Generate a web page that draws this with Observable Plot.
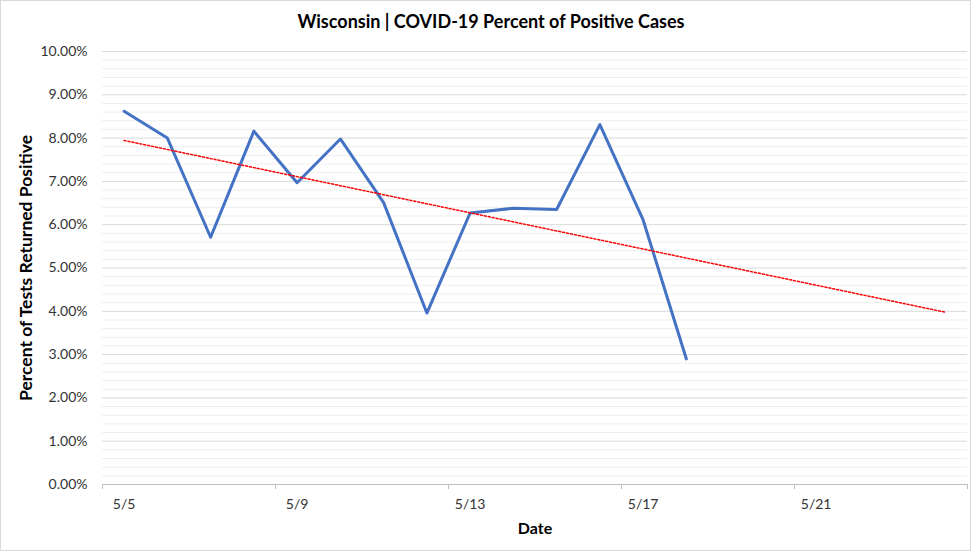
<!DOCTYPE html>
<html><head><meta charset="utf-8">
<script src="https://cdn.jsdelivr.net/npm/d3@7"></script>
<script src="https://cdn.jsdelivr.net/npm/@observablehq/plot@0.6"></script>
<style>
html,body{margin:0;padding:0;background:#fff;}
#chart{position:absolute;left:0;top:0;width:980px;height:552px;}
#border{position:absolute;left:0;top:0;width:969px;height:549px;border:1px solid #d9d9d9;pointer-events:none;}
</style></head><body>
<div id="chart"></div><div id="border"></div>
<script>
// ---- data ----
const dates = ["2020-05-05","2020-05-06","2020-05-07","2020-05-08","2020-05-09","2020-05-10","2020-05-11",
               "2020-05-12","2020-05-13","2020-05-14","2020-05-15","2020-05-16","2020-05-17","2020-05-18"];
const positivePct = [8.62, 8.00, 5.71, 8.16, 6.97, 7.98, 6.51, 3.96, 6.27, 6.38, 6.35, 8.31, 6.11, 2.90];
const xTickLabels = ["5/5","5/9","5/13","5/17","5/21"];
const xTickMarks = ["2020-05-05","2020-05-09","2020-05-13","2020-05-17","2020-05-21","2020-05-25"];
const yTicks = [0,1,2,3,4,5,6,7,8,9,10];
const axisStart = "2020-05-05", axisEnd = "2020-05-25";
const trendEnd = "2020-05-24";
const year = 2020;

// ---- helpers ----
const day = s => new Date(s + "T00:00:00Z");
const mid = s => new Date(s + "T12:00:00Z");
const DAY = 864e5;
const data = dates.map((d, i) => ({date: mid(d), value: positivePct[i]}));

// linear trend (least squares) extended forward to trendEnd
const t0 = data[0].date.getTime();
const xs = data.map(d => (d.date - t0) / DAY), ys = data.map(d => d.value);
const mx = d3.mean(xs), my = d3.mean(ys);
const slope = d3.sum(xs, (x, i) => (x - mx) * (ys[i] - my)) / d3.sum(xs, x => (x - mx) ** 2);
const icpt = my - slope * mx;
const tEnd = (mid(trendEnd) - t0) / DAY;
const trend = [0, tEnd].map(x => ({date: new Date(t0 + x * DAY), value: icpt + slope * x}));

const minor = d3.range(0, 50).map(i => i / 5).filter(v => Math.abs(v - Math.round(v)) > 1e-9);
const labelDates = xTickLabels.map(l => { const [m, d] = l.split("/").map(Number); return new Date(Date.UTC(year, m - 1, d, 12)); });
const fmtMD = d3.utcFormat("%-m/%-d");

const chart = Plot.plot({
  width: 980, height: 552,
  marginLeft: 102, marginRight: 13, marginTop: 51, marginBottom: 68,
  style: {fontFamily: "Lato, 'Open Sans', sans-serif", fontSize: "14px", color: "#333", background: "transparent", overflow: "visible"},
  x: {type: "utc", domain: [day(axisStart), day(axisEnd)], axis: null, label: null},
  y: {domain: [0, 10], axis: null, label: null},
  marks: [
    Plot.ruleY(minor, {stroke: "#eeeeee", strokeWidth: 1}),
    Plot.ruleY(yTicks.filter(d => d > 0), {stroke: "#d9d9d9", strokeWidth: 1}),
    Plot.ruleY([0], {stroke: "#bfbfbf", strokeWidth: 1}),
    Plot.axisX(xTickMarks.map(day), {tickSize: 5, stroke: "#bfbfbf", tickFormat: () => "", label: null}),
    Plot.axisX(labelDates, {tickSize: 0, tickPadding: 15, tickFormat: fmtMD, fontSize: 14, fill: "#333", label: null}),
    Plot.axisY(yTicks, {tickSize: 0, tickPadding: 15, tickFormat: d => d.toFixed(2) + "%", fontSize: 14, fill: "#333", label: null}),
    Plot.line(data, {x: "date", y: "value", stroke: "#4472C4", strokeWidth: 3, strokeLinejoin: "round"}),
    Plot.line(trend, {x: "date", y: "value", stroke: "#ff0000", strokeWidth: 1.5, strokeDasharray: "2,2"}),
    Plot.text(["Wisconsin | COVID-19 Percent of Positive Cases"], {frameAnchor: "top", dx: -44, dy: -29, lineAnchor: "middle", fontSize: 18, fontWeight: "bold", fill: "#000"}),
    Plot.text(["Date"], {frameAnchor: "bottom", dy: 44, lineAnchor: "middle", fontSize: 16, fontWeight: "bold", fill: "#000"}),
    Plot.text(["Percent of Tests Returned Positive"], {frameAnchor: "left", dx: -76, rotate: -90, textAnchor: "middle", lineAnchor: "middle", fontSize: 17.5, fontWeight: "bold", fill: "#000"})
  ]
});
document.getElementById("chart").appendChild(chart);
</script>
</body></html>
